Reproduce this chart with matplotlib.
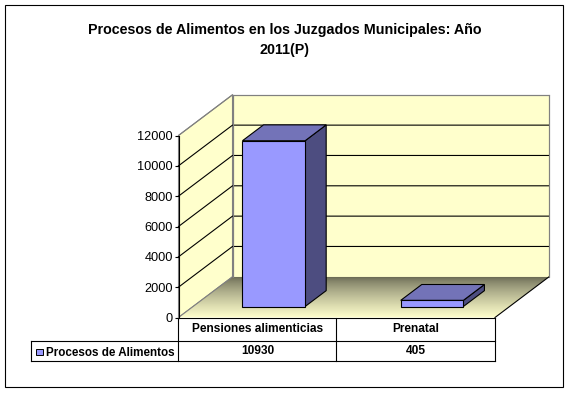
import numpy as np
import matplotlib
matplotlib.use("Agg")
import matplotlib.pyplot as plt
from matplotlib.patches import Polygon, Rectangle

plt.rcParams['font.family'] = ['Liberation Sans', 'DejaVu Sans']

titulo = "Procesos de Alimentos en los Juzgados Municipales: Año\n2011(P)"
categorias = ["Pensiones alimenticias", "Prenatal"]
serie = "Procesos de Alimentos"
valores = [10930, 405]
yticks = [0, 2000, 4000, 6000, 8000, 10000, 12000]

W, H = 569, 393
LW = 0.8
fig = plt.figure(figsize=(W/100, H/100), dpi=100, facecolor='white')

# capa en pixeles para marco, titulo y tabla
px = fig.add_axes([0, 0, 1, 1])
px.set_xlim(0, W)
px.set_ylim(H, 0)
px.axis('off')

px.add_patch(Rectangle((5.5, 4.5), 558, 382.5, fc='white', ec='black', lw=LW))
px.text(285, 40, titulo, ha='center', va='center', fontsize=10.3, fontweight='bold',
        linespacing=1.55)

# tabla de datos
x_tab = [178.5, 336.5, 495]
px.plot([x_tab[0], x_tab[2]], [318, 318], color='black', lw=LW)
px.plot([31, x_tab[2]], [340.5, 340.5], color='black', lw=LW)
px.plot([31, x_tab[2]], [360.5, 360.5], color='black', lw=LW)
px.plot([31, 31], [340.5, 360.5], color='black', lw=LW)
for xt in x_tab:
    px.plot([xt, xt], [318, 360.5], color='black', lw=LW)
for i, cat in enumerate(categorias):
    xc = (x_tab[i] + x_tab[i+1]) / 2
    px.text(xc, 329.5, cat, ha='center', va='center', fontsize=8.6, fontweight='bold')
    px.text(xc, 351.5, str(valores[i]), ha='center', va='center', fontsize=8.6, fontweight='bold')
px.add_patch(Rectangle((36, 349), 7, 6, fc='#9999ff', ec='black', lw=0.7))
px.text(46, 352.5, serie, ha='left', va='center', fontsize=8.35, fontweight='bold')

# ejes del plano frontal: categorias en x, valores en y
x0, x1 = 178.5, 495
y0, y1 = 317.5, 135.5
ax = fig.add_axes([x0/W, 1 - y0/H, (x1-x0)/W, (y0-y1)/H])
ax.patch.set_visible(False)
for s in ['top', 'right', 'bottom']:
    ax.spines[s].set_visible(False)
ax.spines['left'].set_linewidth(LW)
ax.set_xticks([])
ax.set_yticks(yticks)
ax.tick_params(axis='y', length=3, width=LW, pad=1.2, labelsize=9.2)

ymax = yticks[-1]
DX = 54 / ((x1-x0)/2)             # profundidad total en unidades de categoria
DY = 40.7 / (y0-y1) * ymax        # profundidad total en unidades de valor


def proy(x, v, d):
    return (x + d*DX, v + d*DY)


# pared del fondo y pared lateral
ax.add_patch(Polygon([proy(0, 0, 1), proy(2, 0, 1), proy(2, ymax, 1), proy(0, ymax, 1)],
                     fc='#ffffcc', ec='#808080', lw=LW, clip_on=False, zorder=1))
ax.add_patch(Polygon([proy(0, 0, 0), proy(0, 0, 1), proy(0, ymax, 1), proy(0, ymax, 0)],
                     fc='#ffffcc', ec='#808080', lw=LW, clip_on=False, zorder=1))

# piso con degradado
piso = Polygon([proy(0, 0, 0), proy(2, 0, 0), proy(2, 0, 1), proy(0, 0, 1)],
               fc='none', ec='none', clip_on=False, transform=ax.transData)
ax.add_patch(piso)
grad = np.linspace(0, 1, 64)[:, None, None]
c_atras = np.array([0x6b, 0x6b, 0x55]) / 255
c_frente = np.array([0xff, 0xff, 0xcc]) / 255
img = c_atras * (1 - grad**0.75) + c_frente * grad**0.75
im = ax.imshow(img, extent=(0, 2 + DX, 0, DY), origin='upper', aspect='auto', zorder=1.5)
im.set_clip_path(piso)
im.set_clip_box(fig.bbox)
ax.plot(*zip(proy(2, 0, 0), proy(2, 0, 1)), color='black', lw=LW, clip_on=False, zorder=2)
ax.plot(*zip(proy(0, 0, 0), proy(0, 0, 1)), color='#808080', lw=LW, clip_on=False, zorder=2)

# lineas de division
for v in yticks[1:-1]:
    ax.plot(*zip(proy(0, v, 0), proy(0, v, 1), proy(2, v, 1)), color='black', lw=LW,
            clip_on=False, zorder=2)
ax.plot(*zip(proy(0, ymax, 1), proy(2, ymax, 1)), color='#808080', lw=LW, clip_on=False, zorder=2)
ax.plot(*zip(proy(0, ymax, 0), proy(0, ymax, 1)), color='#808080', lw=LW, clip_on=False, zorder=2)
ax.plot(*zip(proy(0, 0, 1), proy(0, ymax, 1)), color='#808080', lw=LW, clip_on=False, zorder=2)
ax.plot(*zip(proy(2, 0, 1), proy(2, ymax, 1)), color='#808080', lw=LW, clip_on=False, zorder=2)

# barras
d_a, d_b = 0.27, 0.66
ancho = 0.396
for i, val in enumerate(valores):
    xa = i + 0.51 - ancho/2
    xb = xa + ancho
    frente = [proy(xa, 0, d_a), proy(xb, 0, d_a), proy(xb, val, d_a), proy(xa, val, d_a)]
    arriba = [proy(xa, val, d_a), proy(xb, val, d_a), proy(xb, val, d_b), proy(xa, val, d_b)]
    lado = [proy(xb, 0, d_a), proy(xb, 0, d_b), proy(xb, val, d_b), proy(xb, val, d_a)]
    for pts, col in [(lado, '#4d4d80'), (arriba, '#7373b8'), (frente, '#9999ff')]:
        ax.add_patch(Polygon(pts, fc=col, ec='black', lw=LW, clip_on=False, zorder=3,
                             joinstyle='miter'))

ax.set_xlim(0, 2)
ax.set_ylim(0, ymax)

fig.savefig('out.png', dpi=100)
